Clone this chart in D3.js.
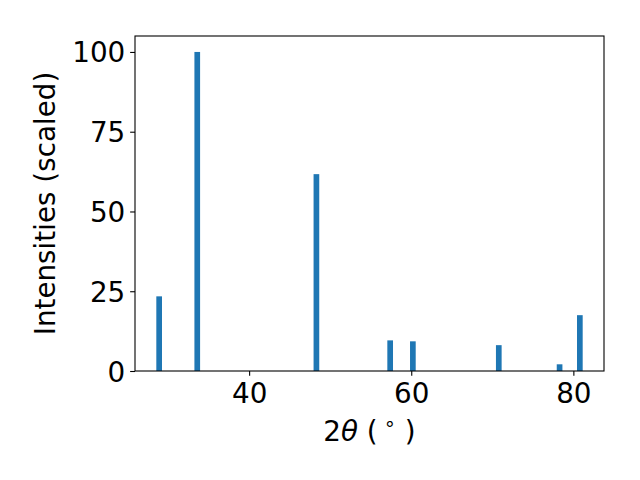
<!DOCTYPE html>
<html><head><meta charset="utf-8">
<script src="https://cdn.jsdelivr.net/npm/d3@7"></script>
<style>body{margin:0;background:#fff}svg{display:block}text{font-family:"DejaVu Sans",sans-serif;fill:#000}</style>
</head><body>
<svg id="c" width="640" height="480"></svg>
<script>
const positions = [28.9, 33.6, 48.3, 57.4, 60.2, 70.8, 78.3, 80.8];
const intensities = [23.4, 100, 61.7, 9.6, 9.3, 8.1, 2.1, 17.5];
const xTicks = [40, 60, 80];
const yTicks = [0, 25, 50, 75, 100];
const barWidth = 0.7;

const svg = d3.select("#c");
const L = 135, R = 604, T = 36, B = 371;
const lo = d3.min(positions) - barWidth / 2, hi = d3.max(positions) + barWidth / 2;
const pad = (hi - lo) * 0.05;
const x = d3.scaleLinear().domain([lo - pad, hi + pad]).range([L, R]);
const y = d3.scaleLinear().domain([0, d3.max(intensities) * 1.05]).range([B, T]);
const fs = 27.8, tl = 4.86;

svg.append("g").selectAll("rect").data(positions).join("rect")
  .attr("x", d => x(d - barWidth / 2))
  .attr("width", d => x(d + barWidth / 2) - x(d - barWidth / 2))
  .attr("y", (d, i) => y(intensities[i]))
  .attr("height", (d, i) => y(0) - y(intensities[i]))
  .attr("fill", "#1f77b4");

const xa = svg.append("g").attr("transform", `translate(0,${B})`)
  .call(d3.axisBottom(x).tickValues(xTicks).tickSize(tl).tickPadding(4.86).tickFormat(d3.format("d")));
const ya = svg.append("g").attr("transform", `translate(${L},0)`)
  .call(d3.axisLeft(y).tickValues(yTicks).tickSize(tl).tickPadding(4.86).tickFormat(d3.format("d")));
[xa, ya].forEach(a => {
  a.select(".domain").remove();
  a.selectAll(".tick line").attr("stroke", "#000").attr("stroke-width", 1.1);
  a.selectAll(".tick text").attr("font-size", fs).attr("font-family", "DejaVu Sans").attr("fill", "#000");
});
xa.selectAll(".tick text").attr("dy", null).attr("y", 31.7);
ya.selectAll(".tick text").attr("dy", "0.36em");

svg.append("rect").attr("x", L).attr("y", T).attr("width", R - L).attr("height", B - T)
  .attr("fill", "none").attr("stroke", "#000").attr("stroke-width", 1.1);

const xl = svg.append("text").attr("x", (L + R) / 2).attr("y", 441).attr("text-anchor", "middle").attr("font-size", fs);
xl.append("tspan").text("2");
xl.append("tspan").attr("font-style", "italic").text("θ");
xl.append("tspan").text(" (");
xl.append("tspan").attr("font-size", fs * 0.7).attr("dy", -11).text(" ∘");
xl.append("tspan").attr("dy", 11).text(" )");

svg.append("text").attr("transform", `translate(55,${(T + B) / 2}) rotate(-90)`)
  .attr("text-anchor", "middle").attr("font-size", fs).text("Intensities (scaled)");
</script>
</body></html>
